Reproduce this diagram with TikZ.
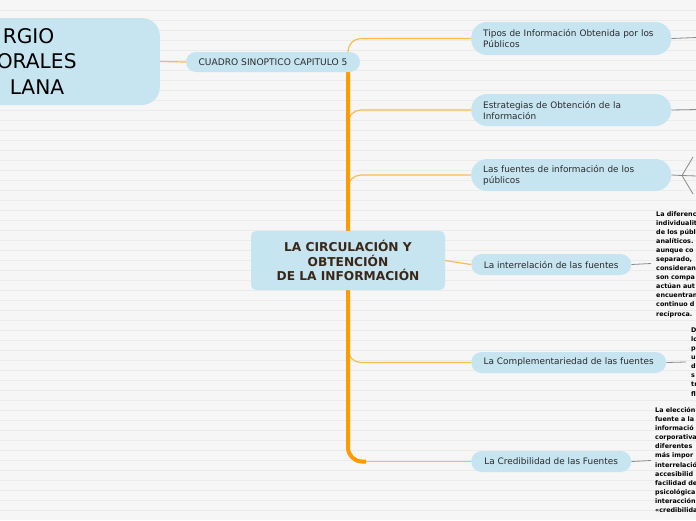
\documentclass[tikz,border=0pt]{standalone}
\usepackage{fontspec}
\setmainfont{DejaVu Sans}
\definecolor{bg}{HTML}{F6F6F6}
\definecolor{rulec}{HTML}{EBEBEB}
\definecolor{nodeblue}{HTML}{C6E5F1}
\definecolor{trunkor}{HTML}{FF9A00}
\definecolor{branchor}{HTML}{FFBA4F}
\definecolor{txt}{HTML}{2B2B2B}
\definecolor{ctxt}{HTML}{3A2718}
\definecolor{gline}{HTML}{8A8A8A}
\pgfdeclarelayer{back}
\pgfdeclarelayer{conn}
\pgfsetlayers{back,conn,main}
\begin{document}
\begin{tikzpicture}[x=1pt,y=-1pt,
  topic2/.style={fill=nodeblue, anchor=west, align=left, inner xsep=12pt, inner ysep=0pt,
    text width=176pt, minimum height=33pt, rounded corners=16pt,
    font=\fontsize{8.9}{11}\selectfont, text=txt},
  topic1/.style={fill=nodeblue, anchor=west, align=center, inner xsep=0pt, inner ysep=0pt,
    minimum height=21pt, rounded corners=10.5pt,
    font=\fontsize{8.9}{11}\selectfont, text=txt},
  tblock/.style={anchor=west, align=left, inner sep=0pt,
    font=\bfseries\fontsize{6.4}{9.05}\selectfont, text=black},
  branch/.style={draw=branchor, line width=1.2pt},
  trunk/.style={draw=trunkor, line width=4pt},
  gconn/.style={draw=gline, line width=0.8pt}]
\useasboundingbox (0,0) rectangle (696,520);
\clip (0,0) rectangle (696,520);
\begin{pgfonlayer}{back}
\fill[bg] (0,0) rectangle (696,520);
\foreach \y in {10,20,...,510} \draw[rulec, line width=0.6pt] (0,\y) -- (696,\y);
\end{pgfonlayer}

% nodes
\node[fill=nodeblue, rounded corners=18pt, minimum width=200pt, minimum height=87pt,
  anchor=east, align=left, inner xsep=42pt, inner ysep=0pt, text width=116pt,
  font=\fontsize{20.2}{25.8}\selectfont, text=black] (name) at (160,61.5)
  {\hspace*{1pt}RGIO\\\hspace*{-5pt}ORALES\\\hspace*{8pt}LANA};
\node[fill=nodeblue, rounded corners=10pt, minimum width=174pt, minimum height=20pt,
  inner sep=0pt, font=\fontsize{9.1}{11}\selectfont, text=txt] (cuadro) at (273,62)
  {CUADRO SINOPTICO CAPITULO 5};
\node[fill=nodeblue, rounded corners=5pt, minimum width=194pt, minimum height=59pt,
  inner sep=0pt, align=center, font=\bfseries\fontsize{12.2}{14.7}\selectfont, text=ctxt]
  (central) at (348,260.5) {LA CIRCULACIÓN Y\\OBTENCIÓN\\DE LA INFORMACIÓN};

\node[topic2] (n1) at (471,38.5) {Tipos de Información Obtenida por los\\Públicos};
\node[topic2, minimum height=32pt] (n2) at (471,110) {Estrategias de Obtención de la\\Información};
\node[topic2, minimum height=32pt] (n3) at (471,175) {Las fuentes de información de los\\públicos};
\node[topic1, minimum width=160pt] (n4) at (471,264.5) {La interrelación de las fuentes};
\node[topic1, minimum width=195pt] (n5) at (471,362.5) {La Complementariedad de las fuentes};
\node[topic1, minimum width=160pt] (n6) at (471,461.5) {La Credibilidad de las Fuentes};

% text blocks
\node[tblock] (t4) at (656,264.5) {La diferenc\\individualit\\de los públ\\analíticos.\\aunque co\\separado,\\consideran\\son compa\\actúan aut\\encuentran\\continuo d\\recíproca.};
\node[tblock] (t5) at (691,362) {D\\lo\\p\\u\\d\\s\\tr\\fl};
\node[tblock] (t6) at (655,460) {La elección\\fuente a la\\informació\\corporativa\\diferentes\\más impor\\interrelació\\accesibilid\\facilidad de\\psicológica\\interacción\\«credibilida};

% coordinates
\coordinate (ttop) at (348,52);
\coordinate (tbot) at (366,461.5);
\coordinate (b1) at (348,62);
\coordinate (b2) at (348,128);
\coordinate (b3) at (348,193);
\coordinate (b5) at (348,344);
\coordinate (e1) at (697,37.5);
\coordinate (e2) at (697,109.5);
\coordinate (f3) at (682,175.5);
\coordinate (u3) at (693,157);
\coordinate (m3) at (697,176);
\coordinate (d3) at (693,194);
\coordinate (e4) at (651,263.5);
\coordinate (e5) at (686,362);
\coordinate (e6) at (651,460.5);

\begin{pgfonlayer}{conn}
\draw[branch] (name.east) -- (cuadro.west);
\draw[branch, rounded corners=13pt] (b1) |- (n1.west);
\draw[branch, rounded corners=13pt] (b2) |- (n2.west);
\draw[branch, rounded corners=13pt] (b3) |- (n3.west);
\draw[branch] (central.east) -- (n4.west);
\draw[branch, rounded corners=13pt] (b5) |- (n5.west);
\draw[branch] (tbot) -- (n6.west);
\draw[trunk, rounded corners=14pt] (ttop) |- (tbot);
\draw[gconn] (n1.east) -- (e1);
\draw[gconn] (n2.east) -- (e2);
\draw[gconn] (n3.east) -- (f3);
\draw[gconn] (f3) -- (u3);
\draw[gconn] (f3) -- (m3);
\draw[gconn] (f3) -- (d3);
\draw[gconn] (n4.east) -- (e4);
\draw[gconn] (n5.east) -- (e5);
\draw[gconn] (n6.east) -- (e6);
\end{pgfonlayer}
\end{tikzpicture}
\end{document}
